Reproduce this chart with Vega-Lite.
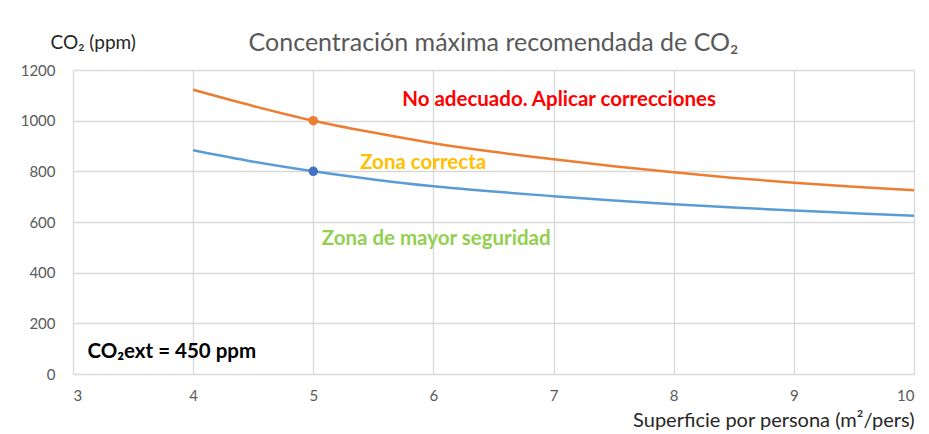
{
  "$schema": "https://vega.github.io/schema/vega-lite/v6.json",
  "width": 841,
  "height": 304,
  "autosize": {"type": "none"},
  "padding": {"left": 73, "top": 70, "right": 15, "bottom": 60},
  "background": "white",
  "title": {
    "text": "Concentración máxima recomendada de CO₂",
    "anchor": "middle",
    "font": "Lato",
    "fontSize": 25,
    "fontWeight": "normal",
    "color": "#595959",
    "baseline": "bottom",
    "offset": -48
  },
  "config": {
    "view": {"stroke": null},
    "font": "Lato",
    "axis": {
      "labelFont": "Lato",
      "labelFontSize": 15,
      "labelColor": "#595959",
      "gridColor": "#D9D9D9",
      "gridWidth": 1.3,
      "domain": false,
      "ticks": false,
      "titleFont": "Lato",
      "titleFontWeight": "normal",
      "titleColor": "#262626"
    }
  },
  "datasets": {
    "curves": [
      {"x": 4, "co2": 1122, "serie": "max"},
      {"x": 4.5, "co2": 1058, "serie": "max"},
      {"x": 5, "co2": 1000, "serie": "max"},
      {"x": 5.5, "co2": 953, "serie": "max"},
      {"x": 6, "co2": 911, "serie": "max"},
      {"x": 6.5, "co2": 877, "serie": "max"},
      {"x": 7, "co2": 848, "serie": "max"},
      {"x": 7.5, "co2": 820, "serie": "max"},
      {"x": 8, "co2": 796, "serie": "max"},
      {"x": 8.5, "co2": 774, "serie": "max"},
      {"x": 9, "co2": 755, "serie": "max"},
      {"x": 9.5, "co2": 739, "serie": "max"},
      {"x": 10, "co2": 725, "serie": "max"},
      {"x": 4, "co2": 883, "serie": "seg"},
      {"x": 4.5, "co2": 838, "serie": "seg"},
      {"x": 5, "co2": 800, "serie": "seg"},
      {"x": 5.5, "co2": 768, "serie": "seg"},
      {"x": 6, "co2": 741, "serie": "seg"},
      {"x": 6.5, "co2": 720, "serie": "seg"},
      {"x": 7, "co2": 702, "serie": "seg"},
      {"x": 7.5, "co2": 685, "serie": "seg"},
      {"x": 8, "co2": 670, "serie": "seg"},
      {"x": 8.5, "co2": 657, "serie": "seg"},
      {"x": 9, "co2": 645, "serie": "seg"},
      {"x": 9.5, "co2": 635, "serie": "seg"},
      {"x": 10, "co2": 625, "serie": "seg"}
    ],
    "points": [
      {"x": 5, "co2": 1000, "serie": "max"},
      {"x": 5, "co2": 800, "serie": "seg"}
    ],
    "labels": [
      {"x": 5.74, "co2": 1082, "label": "No adecuado. Aplicar correcciones", "zona": "no"},
      {"x": 5.39, "co2": 833, "label": "Zona correcta", "zona": "correcta"},
      {"x": 5.07, "co2": 533, "label": "Zona de mayor seguridad", "zona": "segura"},
      {"x": 3.12, "co2": 88, "label": "CO₂ext = 450 ppm", "zona": "ext"}
    ]
  },
  "layer": [
    {
      "data": {"name": "curves"},
      "mark": {"type": "line", "interpolate": "monotone", "strokeWidth": 2.5},
      "encoding": {
        "x": {
          "field": "x", "type": "quantitative",
          "scale": {"domain": [3, 10], "nice": false, "zero": false},
          "axis": {
            "values": [3, 4, 5, 6, 7, 8, 9, 10],
            "format": "d",
            "labelPadding": 14,
            "title": "Superficie por persona (m²/pers)",
            "titleFontSize": 20,
            "titleAlign": "right",
            "titleAnchor": "end",
            "titleX": 841,
            "titleY": 46,
            "titleBaseline": "middle"
          }
        },
        "y": {
          "field": "co2", "type": "quantitative",
          "scale": {"domain": [0, 1200], "nice": false},
          "axis": {
            "values": [0, 200, 400, 600, 800, 1000, 1200],
            "format": "d",
            "labelPadding": 18,
            "title": "CO₂ (ppm)",
            "titleFontSize": 19,
            "titleAngle": 0,
            "titleAlign": "left",
            "titleBaseline": "middle",
            "titleX": -23,
            "titleY": -28
          }
        },
        "color": {
          "field": "serie", "type": "nominal",
          "scale": {"domain": ["max", "seg"], "range": ["#ED7D31", "#5B9BD5"]},
          "legend": null
        }
      }
    },
    {
      "data": {"name": "points"},
      "mark": {"type": "circle", "size": 90, "opacity": 1},
      "encoding": {
        "x": {"field": "x", "type": "quantitative"},
        "y": {"field": "co2", "type": "quantitative"},
        "color": {
          "field": "serie", "type": "nominal",
          "scale": {"domain": ["max", "seg"], "range": ["#ED7D31", "#4472C4"]},
          "legend": null
        }
      }
    },
    {
      "data": {"name": "labels"},
      "mark": {"type": "text", "align": "left", "baseline": "middle", "fontWeight": "bold", "fontSize": 20.5, "font": "Lato"},
      "encoding": {
        "x": {"field": "x", "type": "quantitative"},
        "y": {"field": "co2", "type": "quantitative"},
        "text": {"field": "label"},
        "color": {
          "field": "zona", "type": "nominal",
          "scale": {"domain": ["no", "correcta", "segura", "ext"], "range": ["#FF0000", "#FFC000", "#92D050", "#000000"]},
          "legend": null
        }
      }
    }
  ],
  "resolve": {"scale": {"color": "independent"}}
}
